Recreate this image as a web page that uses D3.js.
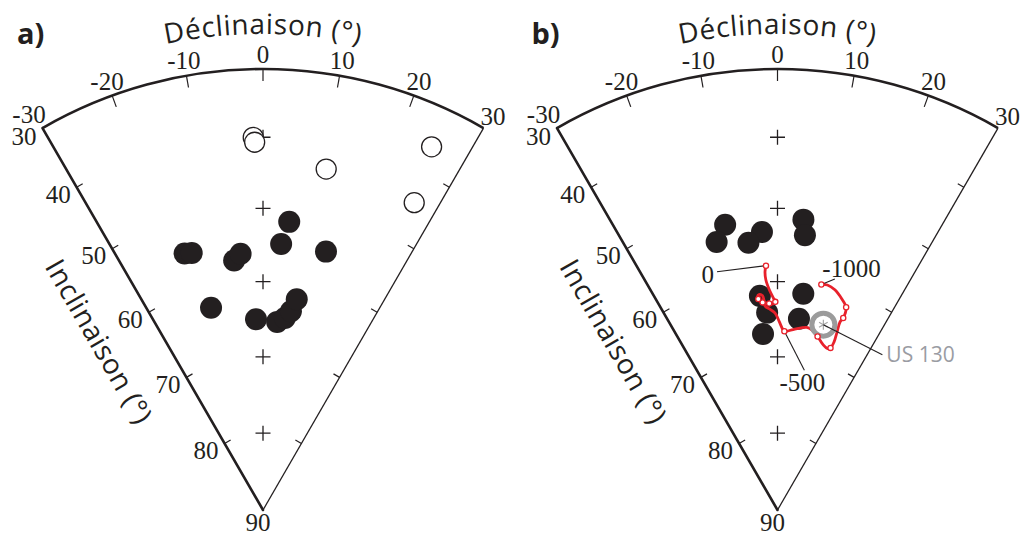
<!DOCTYPE html>
<html><head><meta charset="utf-8">
<script src="https://cdn.jsdelivr.net/npm/d3@7"></script>
<style>body{margin:0;background:#fff}svg{display:block}</style>
</head><body><svg id="c" width="1022" height="535"></svg>
<script>
// ---------- data ----------
const decLabels = [-30, -20, -10, 0, 10, 20, 30];
const decArcTicks = [-20, -10, 0, 10, 20];
const incLabels = [30, 40, 50, 60, 70, 80];
const incEdgeTicks = [40, 50, 60, 70, 80];
const crossInc = [40, 50, 60, 70, 80];
const apexLabel = "90";
const panelLetters = ["a)", "b)"];
const decTitle = "Déclinaison (°)";
const incTitle = "Inclinaison (°)";

// panel a
const aFilledDec = [5.2, 3.9, 13.7, -17.0, -15.5, -6.6, -5.0, -14.4, -2.1, 4.3, 6.5, 8.0, 9.1];
const aFilledInc = [51.7, 54.8, 54.9, 54.6, 54.8, 56.9, 56.1, 62.6, 65.0, 65.3, 64.7, 63.7, 62.0];
const aOpenDec = [-1.5, -1.3, 10.5, 24.9, 26.2];
const aOpenInc = [40.0, 40.7, 43.7, 36.0, 44.3];

// panel b
const bFilledDec = [-10.4, -12.8, -3.2, -6.2, 5.1, 5.7, -4.7, 6.8, -3.0, 6.4, -4.7];
const bFilledInc = [51.6, 53.7, 53.2, 54.5, 51.4, 53.5, 61.8, 61.4, 64.1, 64.8, 66.9];

// reference curve (red)
const curveDec = [-2.7, -3.0, -2.9, -2.1, -1.1, -0.6, -1.6, -2.3, -3.5, -4.1, -5.0, -5.2, -5.4, -4.8, -4.0, -3.7, -3.5, -2.1, -0.7, 0.5, 1.6, 2.2, 5.0, 9.1, 10.8, 13.0, 15.5, 17.1, 18.1, 18.6, 18.5, 18.4, 18.9, 19.0, 18.7, 16.9, 14.6, 12.5, 11.0];
const curveInc = [57.8, 58.6, 59.7, 61.1, 62.2, 62.7, 63.0, 62.9, 62.8, 62.7, 62.4, 62.2, 61.9, 61.6, 61.8, 62.4, 63.2, 63.7, 64.2, 65.3, 66.3, 66.6, 66.3, 65.8, 66.0, 66.7, 67.6, 67.9, 67.7, 66.8, 65.4, 64.0, 63.4, 62.7, 61.9, 61.0, 60.1, 59.7, 59.8];
const markerAge = [0, -100, -200, -300, -400, -500, -600, -700, -800, -900, -1000];
const markerDec = [-2.7, -0.6, -2.3, -4.1, -5.2, 2.2, 13.0, 18.1, 18.9, 18.7, 11.0];
const markerInc = [57.8, 62.7, 62.9, 62.7, 62.2, 66.6, 66.7, 67.7, 63.4, 61.9, 59.8];
const labelledAges = [0, -500, -1000];

const siteName = "US 130";
const siteDec = 13.9;
const siteInc = 65.0;

// ---------- layout ----------
const R = 441, CY = 510;
const panelCx = [263, 777.5];
const INK = "#231f20";
const SERIF = "'Liberation Serif','Times New Roman',serif";
const SANS = "'Open Sans','Noto Sans',sans-serif";

const aScale = d3.scaleLinear().domain([-30, 30]).range([-Math.PI / 6, Math.PI / 6]);
// equal-area (Lambert) radial scale
const eaScale = d3.scaleLinear().domain([0, Math.sin(Math.PI / 6)]).range([0, R]);
const rOf = inc => eaScale(Math.sin((90 - inc) * Math.PI / 360));
function proj(cx, dec, inc, extra = 0) {
  const a = aScale(dec), r = rOf(inc) + extra;
  return [cx + r * Math.sin(a), CY - r * Math.cos(a)];
}

const svg = d3.select("#c");

function drawFrame(g, cx, pi) {
  const p = d3.path();
  const [lx, ly] = proj(cx, -30, 30);
  p.moveTo(lx, ly);
  p.arc(cx, CY, R, -Math.PI / 2 + aScale(-30), -Math.PI / 2 + aScale(30));
  g.append("path").attr("d", p.toString()).attr("fill", "none")
    .attr("stroke", INK).attr("stroke-width", 2.6);
  const apex = proj(cx, 0, 90);
  const lc = proj(cx, -30, 30), rc = proj(cx, 30, 30);
  g.append("line").attr("x1", lc[0]).attr("y1", lc[1]).attr("x2", apex[0]).attr("y2", apex[1])
    .attr("stroke", INK).attr("stroke-width", 2.6).attr("stroke-linecap", "round");
  g.append("line").attr("x1", rc[0]).attr("y1", rc[1]).attr("x2", apex[0]).attr("y2", apex[1])
    .attr("stroke", INK).attr("stroke-width", 1.3);

  g.selectAll(null).data(decArcTicks).join("line")
    .each(function (d) {
      const a = proj(cx, d, 30), b = proj(cx, d, 30, -12);
      d3.select(this).attr("x1", a[0]).attr("y1", a[1]).attr("x2", b[0]).attr("y2", b[1]);
    })
    .attr("stroke", INK).attr("stroke-width", 1.2);

  const la = aScale(-30), ra = aScale(30);
  g.selectAll(null).data(incEdgeTicks).join("line")
    .each(function (i) {
      const a = proj(cx, -30, i);
      d3.select(this).attr("x1", a[0]).attr("y1", a[1])
        .attr("x2", a[0] + 7 * Math.cos(la)).attr("y2", a[1] + 7 * Math.sin(la));
    }).attr("stroke", INK).attr("stroke-width", 1.2);
  g.selectAll(null).data(incEdgeTicks).join("line")
    .each(function (i) {
      const a = proj(cx, 30, i);
      d3.select(this).attr("x1", a[0]).attr("y1", a[1])
        .attr("x2", a[0] - 7 * Math.cos(ra)).attr("y2", a[1] - 7 * Math.sin(ra));
    }).attr("stroke", INK).attr("stroke-width", 1.2);

  // declination labels
  g.selectAll(null).data(decLabels).join("text")
    .each(function (d) {
      const a = proj(cx, d, 30, 15);
      const nudge = d === -30 ? -6 : (d === 30 ? 2 : 0);
      const dy = d === -30 ? -1 : (d === 30 ? 1 : 0);
      d3.select(this).attr("x", a[0] + nudge).attr("y", a[1] + dy);
    })
    .attr("text-anchor", "middle").attr("dominant-baseline", "central")
    .attr("font-family", SERIF).attr("font-size", 25).attr("fill", INK)
    .text(d => d);

  // inclination labels
  g.selectAll(null).data(incLabels).join("text")
    .each(function (i) {
      const a = proj(cx, -30, i);
      d3.select(this).attr("x", a[0] - 6).attr("y", a[1] + 7 + (i === 30 ? 1 : 0));
    })
    .attr("text-anchor", "end").attr("dominant-baseline", "central")
    .attr("font-family", SERIF).attr("font-size", 25).attr("fill", INK)
    .text(d => d);
  g.append("text").attr("x", apex[0] - 5).attr("y", apex[1] + 21)
    .attr("text-anchor", "middle")
    .attr("font-family", SERIF).attr("font-size", 25).attr("fill", INK).text(apexLabel);

  g.selectAll(null).data(crossInc).join("path")
    .attr("d", i => { const [x, y] = proj(cx, 0, i); return `M${x - 7.5},${y}h15M${x},${y - 7.5}v15`; })
    .attr("stroke", INK).attr("stroke-width", 1.3).attr("fill", "none");

  // declination title on arc
  const tp = d3.path();
  const tr = 476;
  tp.moveTo(cx + tr * Math.cos(-Math.PI / 2 - 0.7), CY + tr * Math.sin(-Math.PI / 2 - 0.7));
  tp.arc(cx, CY, tr, -Math.PI / 2 - 0.7, -Math.PI / 2 + 0.7);
  const id = "tp" + pi;
  g.append("path").attr("id", id).attr("d", tp.toString()).attr("fill", "none");
  g.append("text").attr("font-family", SANS).attr("font-size", 28).attr("fill", INK)
    .attr("letter-spacing", 0.6)
    .append("textPath").attr("href", "#" + id).attr("startOffset", "50%")
    .attr("text-anchor", "middle").text(decTitle);

  // inclination title
  g.append("text").attr("transform", `translate(${cx - 163},341) rotate(60)`)
    .attr("text-anchor", "middle").attr("dominant-baseline", "central")
    .attr("font-family", SANS).attr("font-size", 28).attr("fill", INK)
    .attr("letter-spacing", 0.6)
    .text(incTitle);

  g.append("text").attr("x", cx - 246).attr("y", 44)
    .attr("font-family", SANS).attr("font-weight", "bold").attr("font-size", 29).attr("fill", INK)
    .text(panelLetters[pi]);
}

// ---------- panel a ----------
const ga = svg.append("g");
drawFrame(ga, panelCx[0], 0);
const aOpen = d3.zip(aOpenDec, aOpenInc);
ga.selectAll(null).data(aOpen).join("circle")
  .attr("cx", d => proj(panelCx[0], d[0], d[1])[0])
  .attr("cy", d => proj(panelCx[0], d[0], d[1])[1])
  .attr("r", 10).attr("fill", "#fff").attr("stroke", INK).attr("stroke-width", 1.3);
const aFilled = d3.zip(aFilledDec, aFilledInc);
ga.selectAll(null).data(aFilled).join("circle")
  .attr("cx", d => proj(panelCx[0], d[0], d[1])[0])
  .attr("cy", d => proj(panelCx[0], d[0], d[1])[1])
  .attr("r", 11).attr("fill", INK);

// ---------- panel b ----------
const gb = svg.append("g");
const cxb = panelCx[1];
drawFrame(gb, cxb, 1);
const bFilled = d3.zip(bFilledDec, bFilledInc);
gb.selectAll(null).data(bFilled).join("circle")
  .attr("cx", d => proj(cxb, d[0], d[1])[0])
  .attr("cy", d => proj(cxb, d[0], d[1])[1])
  .attr("r", 11).attr("fill", INK);

const RED = "#e8212b";
const curvePts = d3.zip(curveDec, curveInc).map(d => proj(cxb, d[0], d[1]));
gb.append("path").attr("d", d3.line().curve(d3.curveCatmullRom.alpha(0.5))(curvePts))
  .attr("fill", "none").attr("stroke", RED).attr("stroke-width", 2.8)
  .attr("stroke-linejoin", "round").attr("stroke-linecap", "round");

// site
const site = proj(cxb, siteDec, siteInc);
gb.append("circle").attr("cx", site[0]).attr("cy", site[1]).attr("r", 11.5)
  .attr("fill", "#fff").attr("stroke", "#9b9b9b").attr("stroke-width", 5);
[0, 60, 120].forEach(ang => {
  const t = ang * Math.PI / 180;
  gb.append("line")
    .attr("x1", site[0] - 5 * Math.sin(t)).attr("y1", site[1] - 5 * Math.cos(t))
    .attr("x2", site[0] + 5 * Math.sin(t)).attr("y2", site[1] + 5 * Math.cos(t))
    .attr("stroke", "#a8a8a8").attr("stroke-width", 1.2);
});
gb.append("line").attr("x1", site[0]).attr("y1", site[1]).attr("x2", site[0] + 59).attr("y2", site[1] + 30)
  .attr("stroke", INK).attr("stroke-width", 1.1);
gb.append("text").attr("x", site[0] + 63).attr("y", site[1] + 37)
  .attr("font-family", SANS).attr("font-size", 21).attr("fill", "#9a9ca3").text(siteName);

// age labels with leader lines
const markers = markerAge.map((a, i) => ({ age: a, p: proj(cxb, markerDec[i], markerInc[i]) }));
const leaderOff = { "0": [-49, 6], "-500": [20, 39], "-1000": [13.5, -5.5] };
const textOff = { "0": [-52, 17, "end"], "-500": [18, 60, "middle"], "-1000": [1, -7, "start"] };
labelledAges.forEach(age => {
  const m = markers.find(d => d.age === age);
  const lo = leaderOff[String(age)], to = textOff[String(age)];
  gb.append("line").attr("x1", m.p[0]).attr("y1", m.p[1])
    .attr("x2", m.p[0] + lo[0]).attr("y2", m.p[1] + lo[1])
    .attr("stroke", INK).attr("stroke-width", 1.1);
  gb.append("text").attr("x", m.p[0] + to[0]).attr("y", m.p[1] + to[1])
    .attr("text-anchor", to[2]).attr("font-family", SERIF).attr("font-size", 25).attr("fill", INK)
    .text(age);
});

gb.selectAll(null).data(markers).join("circle")
  .attr("cx", d => d.p[0]).attr("cy", d => d.p[1]).attr("r", 2.6)
  .attr("fill", "#fff").attr("stroke", RED).attr("stroke-width", 1.3);
</script>
</body></html>
